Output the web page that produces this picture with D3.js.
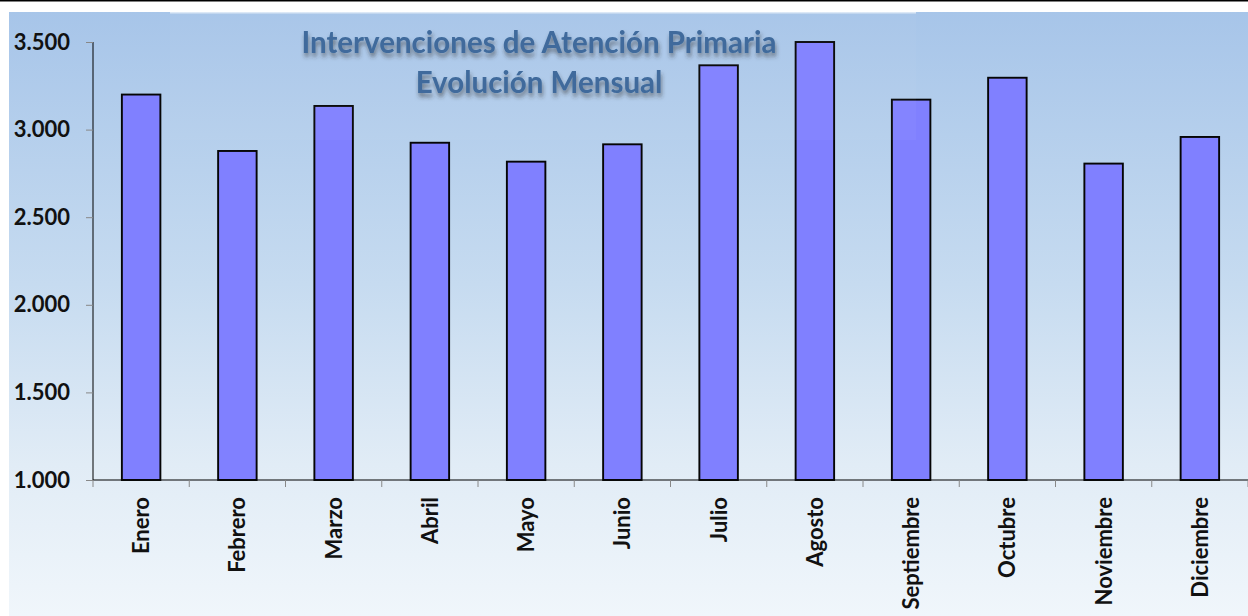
<!DOCTYPE html>
<html>
<head>
<meta charset="utf-8">
<script src="https://cdn.jsdelivr.net/npm/d3@7"></script>
<style>
  body { margin: 0; background: #fff; }
  svg { display: block; font-family: Lato, "Open Sans", sans-serif; }
</style>
</head>
<body>
<div class="svg-container"></div>
<script>
const months = ["Enero","Febrero","Marzo","Abril","Mayo","Junio","Julio","Agosto","Septiembre","Octubre","Noviembre","Diciembre"];
const values = [3200, 2878, 3135, 2925, 2817, 2916, 3367, 3500, 3171, 3296, 2806, 2958];
const yTicks = [1000, 1500, 2000, 2500, 3000, 3500];
const titleLines = ["Intervenciones de Atención Primaria", "Evolución Mensual"];

let width = 1248,
  height = 616;
let plotLeft = 93, plotRight = 1248, plotTop = 42, plotBottom = 480;
const fontName = "Lato, 'Open Sans', sans-serif";

let svg = d3.select(".svg-container").append("svg")
  .attr("width", width)
  .attr("height", height);

let defs = svg.append("defs");
let grad = defs.append("linearGradient")
  .attr("id", "bg").attr("x1", 0).attr("y1", 0).attr("x2", 0).attr("y2", 1);
grad.append("stop").attr("offset", "0%").attr("stop-color", "#a7c5e9");
grad.append("stop").attr("offset", "45%").attr("stop-color", "#c6dbf0");
grad.append("stop").attr("offset", "75%").attr("stop-color", "#e1ecf6");
grad.append("stop").attr("offset", "100%").attr("stop-color", "#f0f6fb");

let shadow = defs.append("filter").attr("id", "shadow")
  .attr("x", "-10%").attr("y", "-30%").attr("width", "120%").attr("height", "170%");
shadow.append("feDropShadow")
  .attr("dx", 1).attr("dy", 4).attr("stdDeviation", 2.2)
  .attr("flood-color", "#333").attr("flood-opacity", 0.55);

// top border and background
svg.append("rect").attr("x", 0).attr("y", 0).attr("width", width).attr("height", 1.5).attr("fill", "#000");
svg.append("rect").attr("x", 9).attr("y", 12).attr("width", width - 9).attr("height", height - 12)
  .attr("fill", "url(#bg)");

// scales
const x = d3.scaleBand()
  .domain(months)
  .range([plotLeft, plotRight])
  .paddingInner(0.6)
  .paddingOuter(0.3);

const y = d3.scaleLinear()
  .domain([1000, 3500])
  .range([plotBottom, plotTop]);

const esLocale = d3.formatLocale({ decimal: ",", thousands: ".", grouping: [3], currency: ["", "€"] });

// bars
svg.selectAll("rect.bar")
  .data(values)
  .enter()
  .append("rect")
  .attr("class", "bar")
  .attr("x", (d, i) => x(months[i]))
  .attr("y", d => y(d))
  .attr("width", x.bandwidth())
  .attr("height", d => y(1000) - y(d))
  .attr("fill", "#8080ff")
  .attr("stroke", "#050505")
  .attr("stroke-width", 1.9);

// title image overlay
svg.append("rect").attr("x", 170).attr("y", 12).attr("width", 746).attr("height", 128)
  .attr("fill", "#ffffff").attr("opacity", 0.03);
svg.append("rect").attr("x", 170).attr("y", 12).attr("width", 746).attr("height", 1.5)
  .attr("fill", "#ffffff").attr("opacity", 0.6);

// y axis
const yAxis = d3.axisLeft(y)
  .tickValues(yTicks)
  .tickSize(7)
  .tickPadding(16)
  .tickFormat(esLocale.format(",d"));

let yg = svg.append("g")
  .attr("transform", "translate(" + plotLeft + ",0)")
  .call(yAxis)
  .attr("font-family", fontName);
yg.select(".domain").attr("stroke", "#000").attr("d", "M0," + plotTop + "V" + plotBottom);
yg.selectAll(".tick line").attr("stroke", "#888");
yg.selectAll(".tick text")
  .attr("fill", "#111")
  .style("font-size", "22px")
  .style("font-weight", 700);

// x axis
const xAxis = d3.axisBottom(x).tickSize(0).tickPadding(0);
let xg = svg.append("g")
  .attr("transform", "translate(0," + plotBottom + ")")
  .call(xAxis)
  .attr("font-family", fontName);
xg.select(".domain").attr("stroke", "#000").attr("d", "M" + plotLeft + ",0H" + plotRight);
xg.selectAll(".tick text")
  .attr("fill", "#111")
  .attr("transform", "rotate(-90)")
  .attr("text-anchor", "end")
  .attr("x", -17)
  .attr("y", 0)
  .attr("dy", "0.36em")
  .style("font-size", "22px")
  .style("font-weight", 700);

// category boundary ticks
const step = x.step();
const bounds = months.map(m => x(m) - step * x.paddingOuter()).concat([plotRight]);
svg.selectAll("line.sep")
  .data(bounds)
  .enter()
  .append("line")
  .attr("class", "sep")
  .attr("x1", d => d).attr("x2", d => d)
  .attr("y1", plotBottom).attr("y2", plotBottom + 7)
  .attr("stroke", "#888");

// title
svg.append("g")
  .attr("filter", "url(#shadow)")
  .selectAll("text")
  .data(titleLines)
  .enter()
  .append("text")
  .attr("x", 539)
  .attr("y", (d, i) => 53 + i * 39.5)
  .attr("text-anchor", "middle")
  .attr("fill", "#3f6b9c")
  .style("font-size", "29.5px")
  .style("font-weight", 700)
  .text(d => d);
</script>
</body>
</html>
